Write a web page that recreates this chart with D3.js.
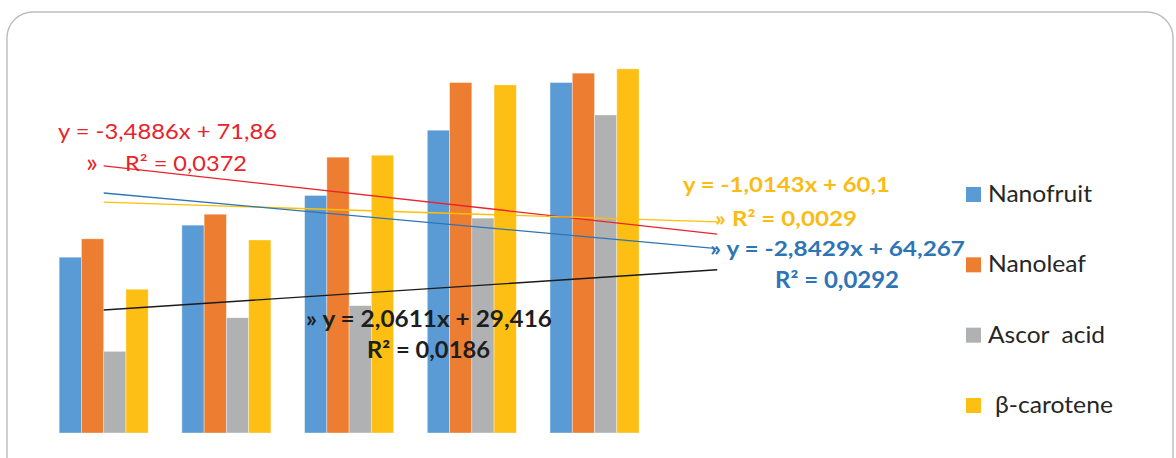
<!DOCTYPE html>
<html>
<head>
<meta charset="utf-8">
<script src="https://cdn.jsdelivr.net/npm/d3@7"></script>
<style>
  html, body { margin: 0; padding: 0; background: #fff; }
  svg { display: block; }
  text { white-space: pre; }
</style>
</head>
<body>
<svg id="chart" width="1176" height="458"></svg>
<script>
// ---- data ----
const categories = ["1", "2", "3", "4", "5"];
const seriesNames = ["Nanofruit", "Nanoleaf", "Ascor  acid", "β-carotene"];
const nanofruit = [45.0, 53.2, 60.8, 77.5, 89.7];
const nanoleaf  = [49.7, 56.0, 70.6, 89.7, 92.1];
const ascorAcid = [20.9, 29.5, 32.6, 55.0, 81.4];
const betaCarotene = [36.8, 49.4, 71.1, 89.1, 93.2];
const seriesValues = [nanofruit, nanoleaf, ascorAcid, betaCarotene];
const seriesColors = ["#5B9BD5", "#ED7D31", "#B0B1B2", "#FDBF13"];

// trendlines (slope, intercept) as printed, drawn from x=1 to x=6
const trendSlopes     = [-3.4886, -1.0143, -2.8429, 2.0611];
const trendIntercepts = [71.86, 60.1, 64.267, 29.416];
const trendColors     = ["#E8232B", "#FFC000", "#2E75B6", "#1A1A1A"];
const trendRange = [1, 6];

// ---- layout ----
const svg = d3.select("#chart");
const plot = { left: 42.35, right: 655.85, top: 42.3, bottom: 433 };

// frame
svg.append("rect")
  .attr("x", 7).attr("y", 12).attr("width", 1166).attr("height", 480)
  .attr("rx", 26).attr("ry", 26)
  .attr("fill", "#fff").attr("stroke", "#BDBDBD").attr("stroke-width", 1.4);

const x = d3.scaleBand().domain(categories)
  .range([plot.left, plot.right])
  .paddingInner(0.2747).paddingOuter(0.137);
const xs = d3.scaleBand().domain(d3.range(seriesNames.length)).range([0, x.bandwidth()]);
const y = d3.scaleLinear().domain([0, 100]).range([plot.bottom, plot.top]);

const rows = categories.map((c, i) => ({ c, vals: seriesValues.map(s => s[i]) }));

const g = svg.append("g");
const groups = g.selectAll("g.cat").data(rows).join("g")
  .attr("class", "cat")
  .attr("transform", d => `translate(${x(d.c)},0)`);
groups.selectAll("rect").data(d => d.vals.map((v, k) => ({ v, k }))).join("rect")
  .attr("x", d => xs(d.k))
  .attr("width", xs.bandwidth())
  .attr("y", d => y(d.v))
  .attr("height", d => y(0) - y(d.v))
  .attr("fill", d => seriesColors[d.k])
  .attr("stroke", "rgba(255,255,255,0.45)")
  .attr("stroke-width", 0.8);

// trendlines
const xLin = d3.scaleLinear().domain([1, 5])
  .range([x(categories[0]) + x.bandwidth() / 2, x(categories[4]) + x.bandwidth() / 2]);
const line = d3.line().x(d => xLin(d[0])).y(d => y(d[1]));
trendSlopes.forEach((m, i) => {
  const pts = trendRange.map(t => [t, m * t + trendIntercepts[i]]);
  g.append("path").attr("d", line(pts))
    .attr("fill", "none").attr("stroke", trendColors[i]).attr("stroke-width", 1.3);
});

// trendline labels
const FONT = "Lato, 'Open Sans', sans-serif";
const labels = [
  { t: "y = -3,4886x + 71,86", x: 58, y: 139, c: "#E8232B", w: "normal", s: 21, L: 219 },
  { t: "»", x: 86, y: 172, c: "#E8232B", w: "normal", s: 27, L: 12 },
  { t: "R² = 0,0372", x: 125, y: 171, c: "#E8232B", w: "normal", s: 21, L: 122 },
  { t: "y = -1,0143x + 60,1", x: 683, y: 192, c: "#F9BC15", w: "bold", s: 21, L: 207 },
  { t: "» R² = 0,0029", x: 715, y: 226, c: "#F9BC15", w: "bold", s: 21, L: 142 },
  { t: "» y = -2,8429x + 64,267", x: 710, y: 256, c: "#2E75B6", w: "bold", s: 21, L: 255 },
  { t: "R² = 0,0292", x: 775, y: 288, c: "#2E75B6", w: "bold", s: 22, L: 124 },
  { t: "» y = 2,0611x + 29,416", x: 306, y: 327, c: "#1E1E1E", w: "bold", s: 22, L: 246 },
  { t: "R² = 0,0186", x: 367, y: 358, c: "#1E1E1E", w: "bold", s: 22, L: 123 }
];
svg.selectAll("text.lbl").data(labels).join("text")
  .attr("class", "lbl")
  .attr("x", d => d.x).attr("y", d => d.y)
  .attr("fill", d => d.c)
  .attr("font-family", FONT)
  .attr("font-weight", d => d.w)
  .attr("font-size", d => d.s + "px")
  .each(function (d) {
    if (d.L) d3.select(this).attr("textLength", d.L).attr("lengthAdjust", "spacingAndGlyphs");
  })
  .text(d => d.t);

// legend
const legendLengths = [104, 98, 117, 118];
const legend = svg.append("g");
const legendY = d3.scalePoint().domain(seriesNames).range([194.5, 405.5]);
const li = legend.selectAll("g").data(seriesNames).join("g")
  .attr("transform", d => `translate(966,${legendY(d)})`);
li.append("rect").attr("x", 0).attr("y", -7.5).attr("width", 15).attr("height", 15)
  .attr("fill", (d, i) => seriesColors[i]);
li.append("text")
  .attr("x", (d, i) => i === 3 ? 29 : 22)
  .attr("y", 7.5)
  .attr("fill", "#262626")
  .attr("font-family", FONT)
  .attr("font-size", "22.5px")
  .attr("textLength", (d, i) => legendLengths[i])
  .attr("lengthAdjust", "spacingAndGlyphs")
  .text(d => d);
</script>
</body>
</html>
